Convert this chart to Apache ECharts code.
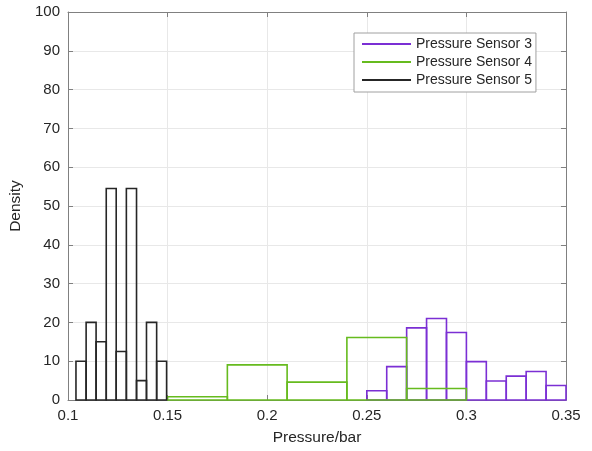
<!DOCTYPE html>
<html>
<head>
<meta charset="utf-8">
<script src="https://cdn.jsdelivr.net/npm/echarts@6/dist/echarts.min.js"></script>
<style>
html,body{margin:0;padding:0;background:#fff;}
#chart{width:592px;height:451px;}
</style>
</head>
<body>
<div id="chart"></div>
<script>
// Data (density per bin)
const sensor3Edges = [0.25, 0.26, 0.27, 0.28, 0.29, 0.30, 0.31, 0.32, 0.33, 0.34, 0.35];
const sensor3Values = [2.4, 8.6, 18.6, 21.0, 17.4, 9.9, 4.9, 6.15, 7.35, 3.75];

const sensor4Edges = [0.15, 0.18, 0.21, 0.24, 0.27, 0.30];
const sensor4Values = [0.85, 9.05, 4.6, 16.1, 2.95];

const sensor5Edges = [0.1040, 0.1091, 0.1141, 0.1192, 0.1242, 0.1293, 0.1344, 0.1394, 0.1445, 0.1495];
const sensor5Values = [10, 20, 15, 54.5, 12.5, 54.5, 5, 20, 10];

const seriesNames = ['Pressure Sensor 3', 'Pressure Sensor 4', 'Pressure Sensor 5'];
const seriesColors = ['#7b2fd4', '#66bb1e', '#262626'];

function toBins(edges, values) {
  return values.map((v, i) => [edges[i], edges[i + 1], v]);
}

function makeSeries(name, color, edges, values) {
  return {
    type: 'custom',
    name: name,
    xAxisIndex: 0,
    yAxisIndex: 0,
    itemStyle: { color: color },
    encode: { x: [0, 1], y: 2 },
    data: toBins(edges, values),
    renderItem: function (params, api) {
      const p0 = api.coord([api.value(0), 0]);
      const p1 = api.coord([api.value(1), api.value(2)]);
      return {
        type: 'rect',
        shape: { x: p0[0], y: p1[1], width: p1[0] - p0[0], height: p0[1] - p1[1] },
        style: { fill: 'none', stroke: color, lineWidth: 1.6 }
      };
    }
  };
}

const axisColor = '#808080';
const textColor = '#262626';
const fontFamily = '"Liberation Sans", Arial, Helvetica, sans-serif';

const chart = echarts.init(document.getElementById('chart'), null, { renderer: 'canvas' });
chart.setOption({
  animation: false,
  backgroundColor: '#ffffff',
  textStyle: { fontFamily: fontFamily },
  grid: { left: 68, right: 26, top: 12, bottom: 49, containLabel: false },
  legend: {
    orient: 'vertical',
    left: 354,
    top: 33,
    padding: [4, 4, 5, 8],
    itemGap: 4,
    itemWidth: 49,
    itemHeight: 2,
    icon: 'rect',
    backgroundColor: '#ffffff',
    borderColor: '#a0a0a0',
    borderWidth: 1,
    textStyle: { fontSize: 14, color: textColor, fontFamily: fontFamily },
    data: seriesNames
  },
  xAxis: [{
    type: 'value',
    min: 0.1,
    max: 0.35,
    interval: 0.05,
    position: 'bottom',
    name: 'Pressure/bar',
    nameLocation: 'middle',
    nameGap: 30,
    nameTextStyle: { fontSize: 15.5, color: textColor },
    axisLine: { show: true, onZero: false, lineStyle: { color: axisColor, width: 1 } },
    axisTick: { show: true, inside: true, length: 5, lineStyle: { color: axisColor } },
    axisLabel: { fontSize: 15, color: textColor, margin: 8, formatter: v => String(+v.toFixed(2)) },
    splitLine: { show: true, lineStyle: { color: '#e8e8e8', width: 1 } }
  }, {
    type: 'value',
    min: 0.1,
    max: 0.35,
    interval: 0.05,
    position: 'top',
    axisLine: { show: true, onZero: false, lineStyle: { color: axisColor, width: 1 } },
    axisTick: { show: true, inside: true, length: 5, lineStyle: { color: axisColor } },
    axisLabel: { show: false },
    splitLine: { show: false }
  }],
  yAxis: [{
    type: 'value',
    min: 0,
    max: 100,
    interval: 10,
    position: 'left',
    name: 'Density',
    nameLocation: 'middle',
    nameGap: 38,
    nameTextStyle: { fontSize: 15.5, color: textColor },
    axisLine: { show: true, onZero: false, lineStyle: { color: axisColor, width: 1 } },
    axisTick: { show: true, inside: true, length: 5, lineStyle: { color: axisColor } },
    axisLabel: { fontSize: 15, color: textColor, margin: 8 },
    splitLine: { show: true, lineStyle: { color: '#e8e8e8', width: 1 } }
  }, {
    type: 'value',
    min: 0,
    max: 100,
    interval: 10,
    position: 'right',
    axisLine: { show: true, onZero: false, lineStyle: { color: axisColor, width: 1 } },
    axisTick: { show: true, inside: true, length: 5, lineStyle: { color: axisColor } },
    axisLabel: { show: false },
    splitLine: { show: false }
  }],
  series: [
    makeSeries(seriesNames[0], seriesColors[0], sensor3Edges, sensor3Values),
    makeSeries(seriesNames[1], seriesColors[1], sensor4Edges, sensor4Values),
    makeSeries(seriesNames[2], seriesColors[2], sensor5Edges, sensor5Values)
  ]
});
</script>
</body>
</html>
